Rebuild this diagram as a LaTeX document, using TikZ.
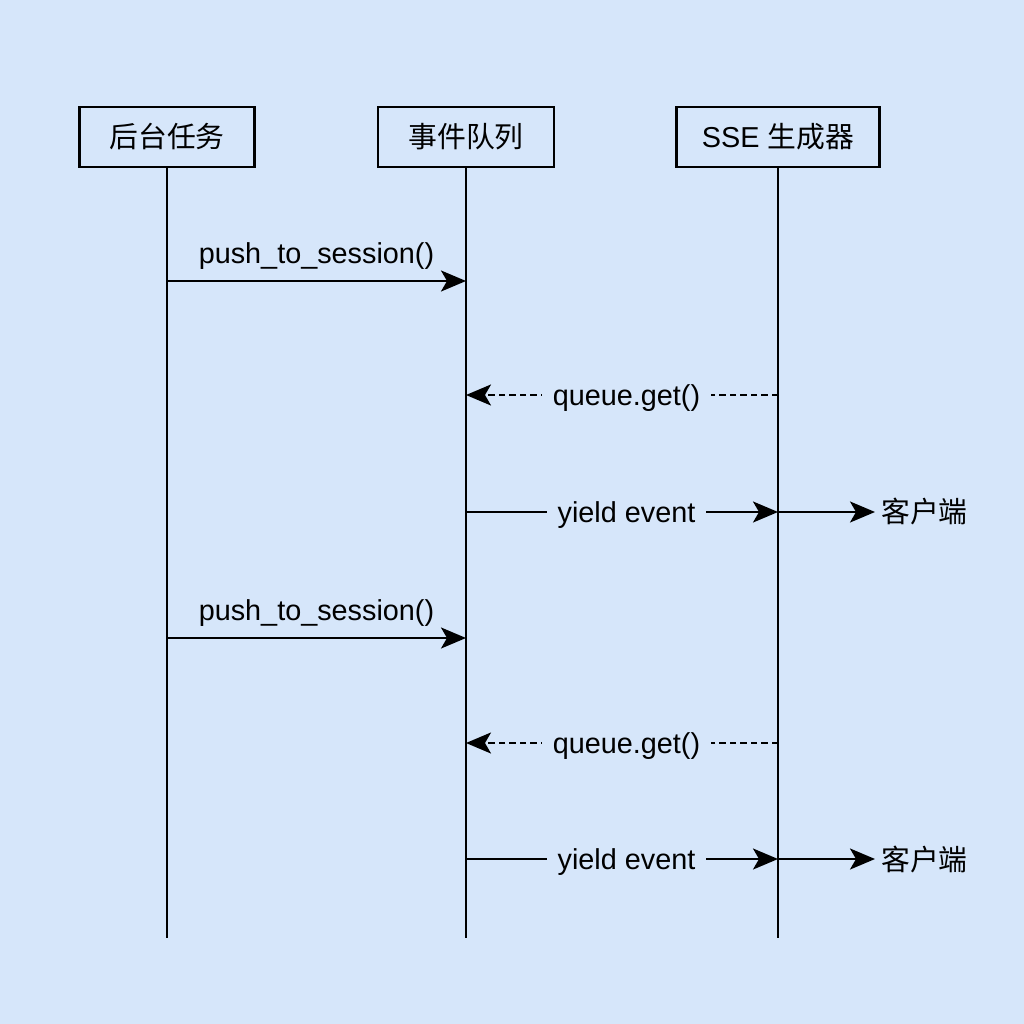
\documentclass[tikz,border=0pt]{standalone}
\usepackage{fontspec}
\setmainfont{Liberation Sans}
\newfontfamily\cjk{Noto Sans CJK SC}
\usetikzlibrary{arrows.meta}
\definecolor{bgblue}{RGB}{214,230,250}

\tikzset{
	actor/.style={draw, line width=0.045cm, fill=bgblue, minimum height=1.2cm, inner sep=0pt},
	lifeline/.style={line width=0.045cm},
	msg/.style={line width=0.045cm, -{Stealth[length=0.5cm, width=0.42cm, inset=0.12cm]}},
	retmsg/.style={msg, dash pattern=on 0.13cm off 0.08cm},
	inlabel/.style={fill=bgblue, inner xsep=0.22cm, inner ysep=0pt, xshift=0.09cm, yshift=-0.06cm},
}

\begin{document}
\begin{tikzpicture}[x=0.02cm, y=-0.02cm, font=\fontsize{16.4}{20}\selectfont]
\fill[bgblue] (0,0) rectangle (1024,1024);
\useasboundingbox (0,0) rectangle (1024,1024);

\pgfmathsetmacro{\actY}{137}
\pgfmathsetmacro{\lineEnd}{938}

\node[actor, minimum width=3.5cm] (task) at (167,\actY) {\cjk 后台任务};
\node[actor, minimum width=3.52cm] (queue) at (466,\actY) {\cjk 事件队列};
\node[actor, minimum width=4.06cm] (sse) at (778,\actY) {SSE {\cjk 生成器}};

\foreach \a in {task, queue, sse} {
	\coordinate (\a end) at (\a.south |- 0,\lineEnd);
	\draw[lifeline] (\a) -- (\a end);
}

\foreach \yp/\yq/\yy [count=\i] in {281/395/512, 638/743/859} {
	\coordinate (push\i a) at (task.south |- 0,\yp);
	\coordinate (push\i b) at (queue.south |- 0,\yp);
	\draw[msg] (push\i a) -- node[midway, yshift=0.5cm] {push\_to\_session()} (push\i b);

	\coordinate (get\i a) at (sse.south |- 0,\yq);
	\coordinate (get\i b) at (queue.south |- 0,\yq);
	\draw[retmsg] (get\i a) -- node[inlabel] {queue.get()} (get\i b);

	\coordinate (yield\i a) at (queue.south |- 0,\yy);
	\coordinate (yield\i b) at (sse.south |- 0,\yy);
	\draw[msg] (yield\i a) -- node[inlabel] {yield event} (yield\i b);

	\node[anchor=west] (client\i) at (875,\yy) {\cjk 客户端};
	\draw[msg] (yield\i b) -- (client\i);
}
\end{tikzpicture}
\end{document}
